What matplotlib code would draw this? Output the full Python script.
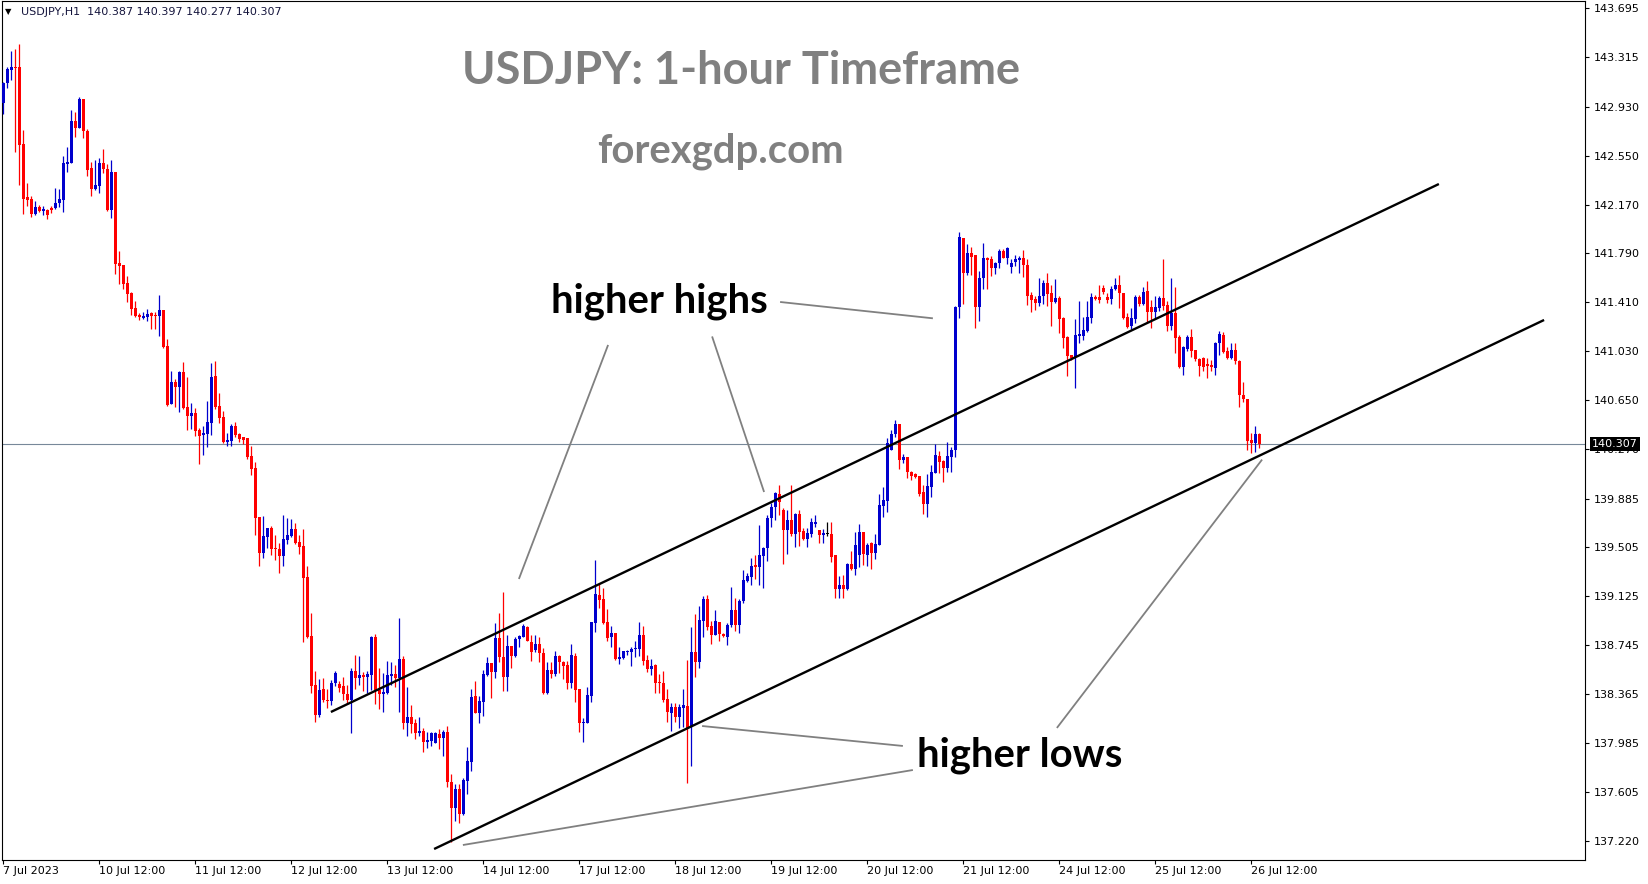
"""USDJPY H1 candlestick chart with a rising channel and higher-high / higher-low notes."""
import matplotlib
matplotlib.use("Agg")
import matplotlib.pyplot as plt
import numpy as np
from matplotlib.transforms import blended_transform_factory

W, H = 1649, 884

# hourly bars, 7 Jul 2023 12:00 -> 26 Jul 2023 14:00
opens = [
    142.962, 143.112, 143.216, 143.237, 143.237, 142.641, 142.226, 142.213, 142.097, 142.149,
    142.120, 142.128, 142.146, 142.141, 142.180, 142.206, 142.488, 142.496, 142.820, 142.768,
    142.991, 142.745, 142.457, 142.291, 142.317, 142.491, 142.444, 142.128, 142.423, 141.713,
    141.700, 141.558, 141.480, 141.363, 141.312, 141.291, 141.299, 141.325, 141.312, 141.306,
    141.350, 141.071, 140.620, 140.789, 140.755, 140.866, 140.594, 140.529, 140.548, 140.418,
    140.379, 140.387, 140.475, 140.838, 140.605, 140.517, 140.322, 140.333, 140.449, 140.387,
    140.361, 140.353, 140.216, 140.120, 139.739, 139.465, 139.589, 139.654, 139.503, 139.491,
    139.441, 139.563, 139.594, 139.649, 139.545, 139.516, 139.273, 138.817, 138.436, 138.203,
    138.402, 138.319, 138.314, 138.449, 138.441, 138.428, 138.366, 138.320, 138.545, 138.493,
    138.514, 138.501, 138.514, 138.812, 138.397, 138.366, 138.377, 138.506, 138.522, 138.488,
    138.638, 138.143, 138.190, 138.143, 138.066, 138.078, 137.989, 138.002, 137.988, 138.055,
    138.022, 138.073, 137.685, 137.477, 137.628, 137.431, 137.693, 137.840, 138.351, 138.221,
    138.307, 138.514, 138.604, 138.539, 138.803, 138.656, 138.500, 138.741, 138.663, 138.790,
    138.811, 138.889, 138.772, 138.708, 138.754, 138.682, 138.371, 138.552, 138.521, 138.661,
    138.617, 138.591, 138.454, 138.661, 138.402, 138.137, 138.137, 138.353, 138.920, 139.135,
    139.104, 138.928, 138.806, 138.837, 138.638, 138.643, 138.689, 138.695, 138.715, 138.715,
    138.824, 138.630, 138.560, 138.591, 138.462, 138.454, 138.327, 138.221, 138.262, 138.190,
    138.260, 138.273, 138.112, 138.695, 138.612, 138.936, 139.102, 138.895, 138.825, 138.923,
    138.833, 138.812, 138.902, 139.019, 138.902, 139.089, 139.247, 139.278, 139.366, 139.356,
    139.439, 139.498, 139.732, 139.822, 139.921, 139.796, 139.641, 139.719, 139.610, 139.765,
    139.633, 139.571, 139.610, 139.687, 139.641, 139.602, 139.610, 139.610, 139.446, 139.182,
    139.213, 139.182, 139.376, 139.338, 139.446, 139.623, 139.446, 139.537, 139.459, 139.524,
    139.830, 139.869, 140.262, 140.387, 140.465, 140.185, 140.211, 140.094, 140.073, 140.063,
    139.933, 139.843, 139.978, 140.081, 140.216, 140.180, 140.125, 140.211, 140.262, 141.371,
    141.908, 141.636, 141.797, 141.779, 141.372, 141.597, 141.753, 141.745, 141.675, 141.714,
    141.810, 141.753, 141.683, 141.727, 141.740, 141.753, 141.701, 141.468, 141.437, 141.408,
    141.460, 141.564, 141.486, 141.416, 141.442, 141.292, 141.144, 141.001, 140.988, 141.149,
    141.152, 141.191, 141.292, 141.455, 141.455, 141.525, 141.455, 141.437, 141.514, 141.546,
    141.486, 141.294, 141.227, 141.281, 141.449, 141.395, 141.499, 141.372, 141.338, 141.369,
    141.447, 141.390, 141.227, 141.330, 141.144, 140.905, 141.048, 141.144, 141.040, 140.967,
    140.975, 140.929, 140.923, 140.903, 141.092, 141.157, 141.032, 140.975, 141.040, 140.954,
    140.690, 140.656, 140.341, 140.320, 140.387,
]
highs = [
    143.125, 143.242, 143.364, 143.379, 143.418, 142.750, 142.335, 142.237, 142.198, 142.167,
    142.159, 142.136, 142.159, 142.299, 142.291, 142.548, 142.620, 142.905, 142.890, 143.009,
    142.991, 142.755, 142.501, 142.517, 142.529, 142.602, 142.483, 142.517, 142.423, 141.809,
    141.700, 141.615, 141.493, 141.420, 141.325, 141.332, 141.358, 141.338, 141.335, 141.467,
    141.350, 141.123, 140.877, 140.812, 140.877, 140.947, 140.827, 140.625, 140.586, 140.431,
    140.452, 140.643, 140.936, 140.954, 140.703, 140.566, 140.392, 140.465, 140.478, 140.392,
    140.366, 140.358, 140.294, 140.167, 139.739, 139.750, 139.654, 139.672, 139.602, 139.537,
    139.757, 139.737, 139.726, 139.693, 139.602, 139.649, 139.361, 138.998, 138.545, 138.483,
    138.493, 138.405, 138.475, 138.545, 138.467, 138.501, 138.436, 138.571, 138.669, 138.662,
    138.535, 138.545, 138.820, 138.833, 138.571, 138.532, 138.623, 138.617, 138.592, 138.959,
    138.662, 138.423, 138.281, 138.172, 138.190, 138.099, 138.068, 138.073, 138.068, 138.091,
    138.086, 138.120, 137.744, 137.667, 137.667, 137.711, 137.957, 138.405, 138.467, 138.351,
    138.553, 138.650, 138.604, 138.915, 138.998, 139.161, 138.824, 138.741, 138.806, 138.824,
    138.907, 138.894, 138.824, 138.824, 138.806, 138.720, 138.617, 138.617, 138.700, 138.669,
    138.622, 138.622, 138.754, 138.682, 138.402, 138.176, 138.422, 138.928, 139.407, 139.226,
    139.187, 139.024, 138.894, 138.842, 138.733, 138.702, 138.708, 138.733, 138.777, 138.923,
    138.894, 138.669, 138.636, 138.599, 138.519, 138.545, 138.402, 138.299, 138.299, 138.288,
    138.402, 138.630, 138.890, 138.988, 139.053, 139.128, 139.136, 138.934, 139.019, 138.923,
    138.843, 138.921, 139.200, 139.115, 139.102, 139.330, 139.309, 139.421, 139.447, 139.680,
    139.511, 139.757, 139.853, 139.934, 139.991, 139.814, 139.796, 139.991, 139.770, 139.796,
    139.654, 139.659, 139.731, 139.757, 139.641, 139.646, 139.700, 139.700, 139.446, 139.283,
    139.291, 139.387, 139.477, 139.628, 139.687, 139.623, 139.542, 139.545, 139.610, 139.920,
    139.972, 140.353, 140.418, 140.496, 140.465, 140.229, 140.211, 140.099, 140.086, 140.063,
    139.990, 140.073, 140.146, 140.307, 140.257, 140.185, 140.322, 140.283, 141.382, 141.954,
    141.913, 141.864, 141.838, 141.779, 141.654, 141.869, 141.761, 141.771, 141.727, 141.823,
    141.823, 141.843, 141.745, 141.779, 141.771, 141.818, 141.745, 141.494, 141.463, 141.602,
    141.584, 141.636, 141.546, 141.592, 141.460, 141.299, 141.149, 141.001, 141.279, 141.424,
    141.299, 141.424, 141.481, 141.468, 141.546, 141.546, 141.481, 141.538, 141.597, 141.623,
    141.486, 141.325, 141.364, 141.467, 141.467, 141.532, 141.576, 141.429, 141.460, 141.460,
    141.747, 141.421, 141.602, 141.532, 141.157, 141.071, 141.157, 141.201, 141.040, 140.975,
    140.983, 140.975, 140.962, 141.105, 141.188, 141.183, 141.066, 141.097, 141.097, 140.962,
    140.789, 140.656, 140.397, 140.449, 140.397,
]
lows = [
    142.871, 143.074, 143.138, 142.581, 142.322, 142.097, 142.162, 142.076, 142.089, 142.115,
    142.089, 142.058, 142.107, 142.136, 142.149, 142.115, 142.426, 142.491, 142.698, 142.763,
    142.690, 142.395, 142.239, 142.283, 142.263, 142.418, 142.120, 142.068, 141.628, 141.553,
    141.514, 141.415, 141.312, 141.294, 141.273, 141.281, 141.265, 141.203, 141.203, 141.151,
    141.058, 140.604, 140.620, 140.599, 140.561, 140.581, 140.418, 140.426, 140.374, 140.154,
    140.224, 140.289, 140.379, 140.581, 140.470, 140.314, 140.296, 140.294, 140.366, 140.322,
    140.309, 140.193, 140.068, 139.602, 139.363, 139.426, 139.498, 139.446, 139.408, 139.309,
    139.363, 139.532, 139.589, 139.532, 139.454, 138.773, 138.799, 138.371, 138.151, 138.190,
    138.306, 138.260, 138.281, 138.431, 138.384, 138.320, 138.288, 138.066, 138.405, 138.436,
    138.392, 138.377, 138.397, 138.288, 138.250, 138.229, 138.366, 138.436, 138.418, 138.229,
    138.091, 138.042, 138.066, 138.016, 138.042, 137.918, 137.949, 137.965, 137.983, 137.939,
    137.887, 137.641, 137.218, 137.382, 137.361, 137.426, 137.586, 137.770, 138.216, 138.138,
    138.198, 138.509, 138.337, 138.487, 138.617, 138.391, 138.391, 138.570, 138.656, 138.733,
    138.806, 138.780, 138.625, 138.695, 138.617, 138.363, 138.366, 138.487, 138.505, 138.531,
    138.479, 138.404, 138.410, 138.306, 138.068, 137.990, 138.137, 138.306, 138.845, 139.031,
    138.910, 138.780, 138.733, 138.630, 138.599, 138.638, 138.669, 138.586, 138.656, 138.663,
    138.591, 138.539, 138.514, 138.377, 138.371, 138.301, 138.146, 138.081, 138.146, 138.104,
    138.112, 137.677, 137.809, 138.501, 138.571, 138.807, 138.864, 138.755, 138.825, 138.778,
    138.812, 138.747, 138.889, 138.856, 138.843, 139.076, 139.234, 139.213, 139.260, 139.213,
    139.193, 139.403, 139.667, 139.719, 139.757, 139.377, 139.452, 139.594, 139.511, 139.517,
    139.563, 139.511, 139.589, 139.667, 139.537, 139.537, 139.594, 139.395, 139.115, 139.110,
    139.115, 139.174, 139.330, 139.291, 139.350, 139.369, 139.361, 139.335, 139.413, 139.524,
    139.739, 139.783, 140.262, 140.366, 140.115, 140.159, 140.047, 140.029, 140.042, 139.905,
    139.765, 139.744, 139.895, 140.081, 140.081, 140.016, 140.094, 140.089, 140.211, 141.286,
    141.397, 141.623, 141.623, 141.214, 141.268, 141.514, 141.514, 141.618, 141.628, 141.675,
    141.753, 141.706, 141.636, 141.693, 141.641, 141.610, 141.390, 141.338, 141.351, 141.382,
    141.395, 141.382, 141.227, 141.408, 141.175, 141.053, 140.841, 140.963, 140.742, 141.092,
    141.118, 141.183, 141.253, 141.429, 141.403, 141.473, 141.403, 141.398, 141.507, 141.364,
    141.281, 141.214, 141.201, 141.247, 141.382, 141.390, 141.260, 141.208, 141.286, 141.343,
    141.351, 141.190, 141.195, 141.019, 140.897, 140.846, 141.035, 140.983, 140.957, 140.838,
    140.879, 140.825, 140.879, 140.846, 141.001, 141.019, 140.970, 140.967, 140.929, 140.600,
    140.633, 140.263, 140.237, 140.250, 140.277,
]
closes = [
    143.112, 143.221, 143.237, 143.234, 142.633, 142.213, 142.206, 142.097, 142.149, 142.120,
    142.136, 142.089, 142.128, 142.180, 142.213, 142.491, 142.504, 142.820, 142.768, 142.991,
    142.745, 142.439, 142.291, 142.322, 142.491, 142.444, 142.128, 142.423, 141.708, 141.695,
    141.553, 141.475, 141.358, 141.306, 141.294, 141.306, 141.319, 141.306, 141.306, 141.350,
    141.066, 140.612, 140.789, 140.755, 140.866, 140.586, 140.529, 140.548, 140.413, 140.374,
    140.392, 140.478, 140.827, 140.594, 140.514, 140.322, 140.340, 140.449, 140.379, 140.348,
    140.340, 140.211, 140.115, 139.737, 139.465, 139.594, 139.654, 139.493, 139.491, 139.441,
    139.568, 139.602, 139.649, 139.537, 139.511, 139.270, 138.806, 138.428, 138.203, 138.397,
    138.319, 138.312, 138.449, 138.527, 138.415, 138.364, 138.320, 138.545, 138.493, 138.514,
    138.501, 138.522, 138.812, 138.397, 138.366, 138.379, 138.514, 138.522, 138.488, 138.638,
    138.143, 138.190, 138.133, 138.066, 138.081, 137.989, 138.007, 138.060, 138.066, 138.022,
    138.073, 137.680, 137.477, 137.628, 137.431, 137.698, 137.845, 138.345, 138.221, 138.312,
    138.522, 138.605, 138.539, 138.803, 138.656, 138.500, 138.741, 138.663, 138.793, 138.816,
    138.894, 138.780, 138.695, 138.754, 138.682, 138.371, 138.552, 138.521, 138.661, 138.617,
    138.586, 138.454, 138.669, 138.397, 138.137, 138.150, 138.358, 138.928, 139.143, 139.096,
    138.920, 138.803, 138.837, 138.638, 138.656, 138.700, 138.700, 138.715, 138.726, 138.824,
    138.625, 138.560, 138.584, 138.454, 138.449, 138.320, 138.224, 138.262, 138.190, 138.268,
    138.281, 138.099, 138.695, 138.612, 138.941, 139.102, 138.890, 138.825, 138.934, 138.833,
    138.820, 138.902, 139.019, 138.902, 139.089, 139.252, 139.286, 139.364, 139.356, 139.447,
    139.504, 139.737, 139.822, 139.926, 139.861, 139.641, 139.719, 139.610, 139.765, 139.628,
    139.571, 139.620, 139.700, 139.705, 139.602, 139.615, 139.610, 139.433, 139.182, 139.213,
    139.182, 139.376, 139.338, 139.524, 139.628, 139.452, 139.524, 139.459, 139.532, 139.835,
    139.874, 140.314, 140.387, 140.465, 140.185, 140.211, 140.089, 140.063, 140.055, 139.920,
    139.843, 139.983, 140.089, 140.224, 140.172, 140.125, 140.216, 140.262, 141.371, 141.921,
    141.636, 141.796, 141.766, 141.372, 141.597, 141.753, 141.740, 141.675, 141.719, 141.810,
    141.758, 141.836, 141.719, 141.748, 141.758, 141.701, 141.463, 141.429, 141.408, 141.460,
    141.564, 141.476, 141.416, 141.442, 141.279, 141.136, 140.994, 140.981, 141.157, 141.165,
    141.196, 141.294, 141.455, 141.437, 141.429, 141.494, 141.429, 141.514, 141.546, 141.486,
    141.292, 141.222, 141.286, 141.449, 141.395, 141.493, 141.333, 141.338, 141.372, 141.447,
    141.385, 141.227, 141.330, 141.136, 140.905, 141.061, 141.144, 141.035, 140.967, 140.916,
    140.910, 140.916, 140.910, 141.097, 141.162, 141.027, 140.980, 141.040, 140.954, 140.690,
    140.656, 140.333, 140.320, 140.387, 140.307,
]

# time axis: one label every 24 bars
date_ticks = [0, 24, 48, 72, 96, 120, 144, 168, 192, 216, 240, 264, 288, 312]
date_labels = ["7 Jul 2023", "10 Jul 12:00", "11 Jul 12:00", "12 Jul 12:00", "13 Jul 12:00",
               "14 Jul 12:00", "17 Jul 12:00", "18 Jul 12:00", "19 Jul 12:00", "20 Jul 12:00",
               "21 Jul 12:00", "24 Jul 12:00", "25 Jul 12:00", "26 Jul 12:00"]
price_ticks = [143.695, 143.315, 142.930, 142.550, 142.170, 141.790, 141.410, 141.030, 140.650,
               140.270, 139.885, 139.505, 139.125, 138.745, 138.365, 137.985, 137.605, 137.220]

# drawn objects as (bar index, price) end points
channel_lines = [((81.9, 138.226), (358.9, 142.330)),
                 ((107.7, 137.161), (385.2, 141.273))]
high_pointers = [((151.2, 141.079), (128.9, 139.260)),
                 ((177.2, 141.145), (190.2, 139.936)),
                 ((194.2, 141.413), (232.4, 141.286))]
low_pointers = [((224.9, 137.962), (174.7, 138.117)),
                ((227.4, 137.775), (114.9, 137.192)),
                ((263.4, 138.102), (314.7, 140.188))]

BULL, BEAR, DOJI = "#0000CD", "#FF0000", "#000000"
NOTE_GRAY = "#808080"
PRICE_LINE = "#778899"


def px(x, y):
    """Figure pixel (from top-left) -> figure fraction."""
    return x / W, 1 - y / H


def main():
    fig = plt.figure(figsize=(W / 100, H / 100), dpi=100)
    ax = fig.add_axes([2 / W, 1 - 860 / H, 1583 / W, 859 / H])

    n = min(len(opens), len(highs), len(lows), len(closes))
    o, h, l, c = (np.asarray(a[:n], dtype=float) for a in (opens, highs, lows, closes))
    idx = np.arange(n)
    colors = np.where(c > o, BULL, np.where(c < o, BEAR, DOJI))

    ax.vlines(idx, l, h, colors=colors, linewidth=0.9, zorder=3)
    ax.bar(idx, np.maximum(np.abs(c - o), 0.006), bottom=np.minimum(o, c), width=0.72,
           color=colors, linewidth=0, zorder=4)

    ax.axhline(c[-1], color=PRICE_LINE, lw=0.8, zorder=2)

    for (x0, p0), (x1, p1) in channel_lines:
        ax.plot([x0, x1], [p0, p1], color="black", lw=1.7, solid_capstyle="butt", zorder=5)
    for (x0, p0), (x1, p1) in high_pointers + low_pointers:
        ax.plot([x0, x1], [p0, p1], color=NOTE_GRAY, lw=1.3, solid_capstyle="butt", zorder=5)

    ax.set_xlim(-0.325, 395.43)
    ax.set_ylim(137.0755, 143.7525)

    ax.set_xticks(date_ticks)
    ax.set_xticklabels(date_labels, ha="left")
    ax.tick_params(axis="x", length=3, width=0.8, pad=1.5, labelsize=8, colors="black")
    ax.yaxis.tick_right()
    ax.set_yticks(price_ticks)
    ax.set_yticklabels([f"{v:.3f}" for v in price_ticks])
    ax.tick_params(axis="y", length=3, width=0.8, pad=3, labelsize=8)
    for sp in ax.spines.values():
        sp.set_color("black")
        sp.set_linewidth(0.8)

    # current price tag on the price scale
    tr = blended_transform_factory(ax.transAxes, ax.transData)
    ax.text(1 + 7 / 1583, c[-1], f"{c[-1]:.3f}", transform=tr, ha="left", va="center",
            fontsize=8, color="white", clip_on=False, zorder=10,
            bbox=dict(boxstyle="square,pad=0.2", fc="black", ec="none"))

    # terminal header
    fig.text(*px(5, 12), "\u25bc", fontsize=6, va="center", color="black")
    fig.text(*px(21, 12), f"USDJPY,H1  {o[-1]:.3f} {h[-1]:.3f} {l[-1]:.3f} {c[-1]:.3f}",
             fontsize=8, va="center", color="#14143c")

    font = dict(family=["Lato", "DejaVu Sans"], weight="bold")
    notes = [
        (fig.text(*px(741, 84), "USDJPY: 1-hour Timeframe", color=NOTE_GRAY, ha="center",
                  va="baseline", fontsize=30, **font), 557),
        (fig.text(*px(720, 163), "forexgdp.com", color=NOTE_GRAY, ha="center",
                  va="baseline", fontsize=24, **font), 246),
        (fig.text(*px(659, 312), "higher highs", color="black", ha="center",
                  va="baseline", fontsize=24, **font), 217),
        (fig.text(*px(1020, 767), "higher lows", color="black", ha="center",
                  va="baseline", fontsize=24, **font), 205),
    ]
    fig.canvas.draw()
    renderer = fig.canvas.get_renderer()
    for txt, target in notes:
        width = txt.get_window_extent(renderer).width
        txt.set_fontsize(txt.get_fontsize() * target / width)

    fig.savefig("out.png", dpi=100)
    plt.close(fig)


if __name__ == "__main__":
    main()
